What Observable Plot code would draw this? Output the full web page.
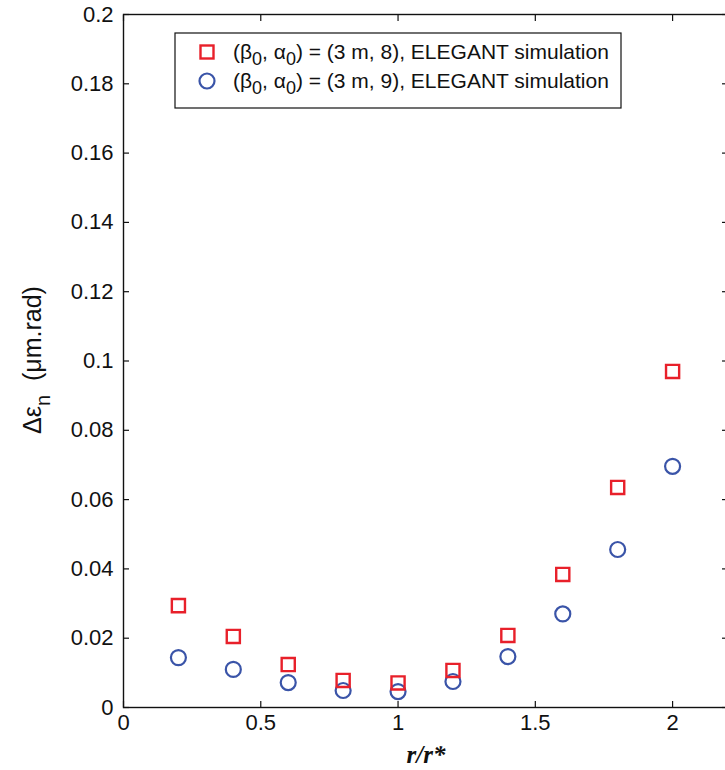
<!DOCTYPE html>
<html><head><meta charset="utf-8">
<script src="https://cdn.jsdelivr.net/npm/d3@7"></script>
<script src="https://cdn.jsdelivr.net/npm/@observablehq/plot@0.6"></script>
<style>body{margin:0;background:#fff;overflow:hidden}</style>
</head><body><div id="chart"></div>
<script>
const ratio = [0.2, 0.4, 0.6, 0.8, 1.0, 1.2, 1.4, 1.6, 1.8, 2.0];
const alpha8 = [0.0294, 0.0205, 0.0124, 0.0078, 0.0071, 0.0107, 0.0208, 0.0384, 0.0635, 0.0970];
const alpha9 = [0.0144, 0.0110, 0.0072, 0.0049, 0.0046, 0.0075, 0.0147, 0.0270, 0.0456, 0.0696];
const xTicks = [0, 0.5, 1, 1.5, 2];
const yTicks = [0, 0.02, 0.04, 0.06, 0.08, 0.1, 0.12, 0.14, 0.16, 0.18, 0.2];
const legendParts = [["(β", "0", ", α", "0", ") = (3 m, 8), ELEGANT simulation"],
                     ["(β", "0", ", α", "0", ") = (3 m, 9), ELEGANT simulation"]];
const colors = ["#e8202a", "#3a54a8"];

const rows8 = ratio.map((r, i) => ({r, v: alpha8[i]}));
const rows9 = ratio.map((r, i) => ({r, v: alpha9[i]}));
const fmtY = d => String(+d.toFixed(2));

const svg = Plot.plot({
  width: 725, height: 770,
  marginLeft: 123, marginRight: -2, marginTop: 14, marginBottom: 63,
  style: {fontFamily: "'Liberation Sans', Arial, sans-serif", background: "#fff", color: "#111"},
  x: {domain: [0, 2.2], axis: null},
  y: {domain: [0, 0.2], axis: null},
  marks: [
    Plot.axisY(yTicks, {anchor: "left", tickSize: -6, tickPadding: 16, fontSize: 22, tickFormat: fmtY, label: null, strokeWidth: 1.2}),
    Plot.axisY(yTicks, {anchor: "right", tickSize: -6, tickFormat: () => "", label: null, strokeWidth: 1.2}),
    Plot.axisX(xTicks, {anchor: "bottom", tickSize: -6, tickPadding: 13, fontSize: 22, tickFormat: d => String(d), label: null, strokeWidth: 1.2}),
    Plot.axisX(xTicks, {anchor: "top", tickSize: -6, tickFormat: () => "", label: null, strokeWidth: 1.2}),
    Plot.frame({stroke: "#111", strokeWidth: 1.4}),
    Plot.dot(rows9, {x: "r", y: "v", symbol: "circle", r: 7.5, stroke: colors[1], strokeWidth: 2.2, fill: "none"}),
    Plot.dot(rows8, {x: "r", y: "v", symbol: "square", r: 7.4, stroke: colors[0], strokeWidth: 2.4, fill: "none"})
  ]
});

const s = d3.select(svg);
// y label
const yl = s.append("text")
  .attr("transform", "translate(41,360) rotate(-90)")
  .attr("text-anchor", "middle")
  .attr("font-size", 25).attr("fill", "#111");
yl.append("tspan").text("Δε");
yl.append("tspan").attr("dy", 9).attr("font-size", 20).text("n");
yl.append("tspan").attr("dy", -9).text("  (μm.rad)");
// x label
s.append("text")
  .attr("x", 426).attr("y", 763)
  .attr("text-anchor", "middle")
  .attr("font-family", "'Liberation Serif', 'Times New Roman', serif")
  .attr("font-style", "italic").attr("font-weight", "bold")
  .attr("font-size", 25).attr("fill", "#111")
  .text("r/r*");
// legend
const lg = s.append("g").attr("text-anchor", "start");
lg.append("rect").attr("x", 175).attr("y", 33).attr("width", 446).attr("height", 75)
  .attr("fill", "#fff").attr("stroke", "#111").attr("stroke-width", 1.2);
legendParts.forEach((parts, i) => {
  const cy = 52 + i * 29;
  if (i === 0) {
    lg.append("rect").attr("x", 200.5).attr("y", cy - 6.5).attr("width", 13).attr("height", 13)
      .attr("fill", "none").attr("stroke", colors[0]).attr("stroke-width", 2.4);
  } else {
    lg.append("circle").attr("cx", 207).attr("cy", cy).attr("r", 7.5)
      .attr("fill", "none").attr("stroke", colors[1]).attr("stroke-width", 2.2);
  }
  const t = lg.append("text").attr("x", 233).attr("y", cy + 7)
    .attr("text-anchor", "start").attr("font-size", 21).attr("fill", "#111");
  t.append("tspan").text(parts[0]);
  t.append("tspan").attr("dy", 6).attr("font-size", 18).text(parts[1]);
  t.append("tspan").attr("dy", -6).text(parts[2]);
  t.append("tspan").attr("dy", 6).attr("font-size", 18).text(parts[3]);
  t.append("tspan").attr("dy", -6).text(parts[4]);
});

document.getElementById("chart").appendChild(svg);
</script>
</body></html>
